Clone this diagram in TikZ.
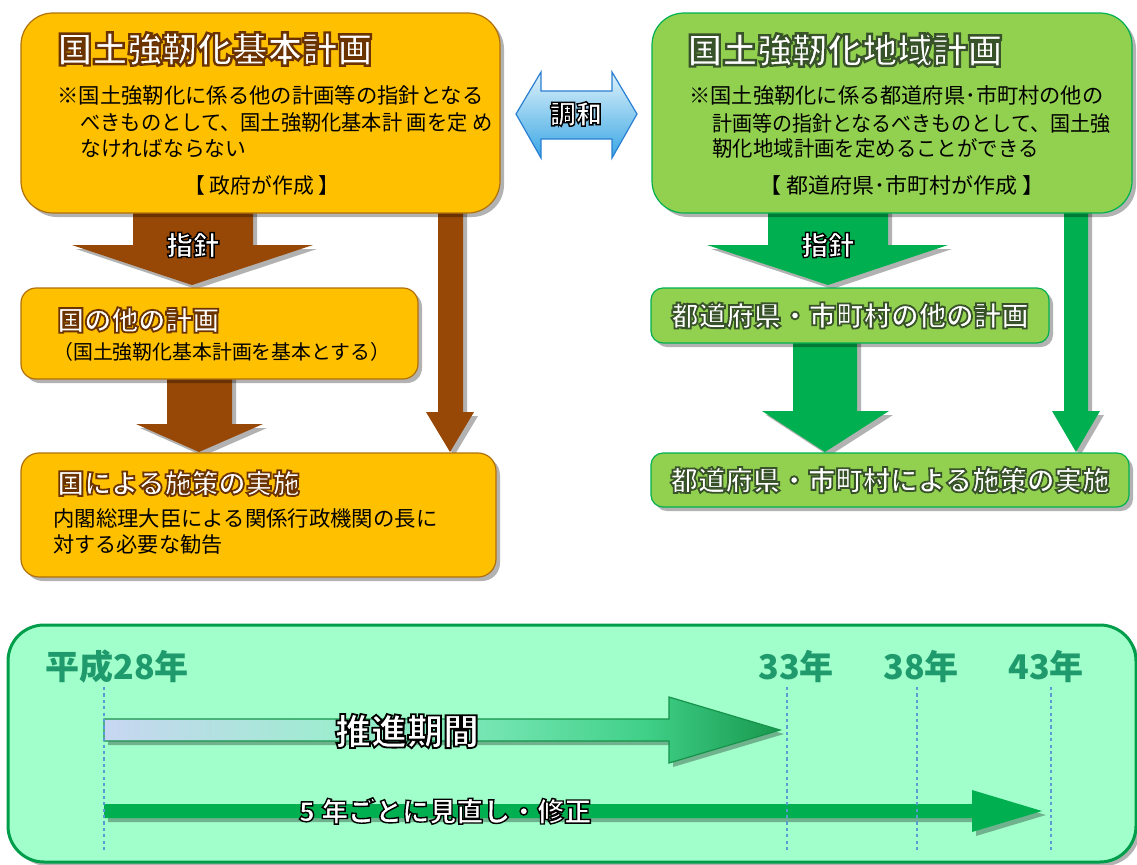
\documentclass[tikz,border=0pt]{standalone}
\usepackage{fontspec}
\setmainfont{Noto Sans CJK JP}
\usepackage{graphicx}
\usetikzlibrary{shadows}
\definecolor{ofill}{HTML}{FFC000}
\definecolor{oborder}{HTML}{B0700A}
\definecolor{brn}{HTML}{974806}
\definecolor{gfill}{HTML}{92D050}
\definecolor{gborder}{HTML}{00B050}
\definecolor{garr}{HTML}{00B050}
\definecolor{pfill}{HTML}{A0FFCA}
\definecolor{pborder}{HTML}{009E4A}
\definecolor{yr}{HTML}{1F9A6C}
\definecolor{dotc}{HTML}{5B9BD5}
\definecolor{hlight}{HTML}{E0F2FA}
\definecolor{hdark}{HTML}{38A6E4}
\definecolor{hline}{HTML}{2A7FD2}
\definecolor{pa}{HTML}{C8D6F2}
\definecolor{pb}{HTML}{9EECD0}
\definecolor{pc}{HTML}{72E4B0}
\definecolor{pd}{HTML}{40D088}
\definecolor{pe}{HTML}{18984E}
\definecolor{pline}{HTML}{16934A}
\pgfdeclarehorizontalshading{promsh}{100bp}{color(0bp)=(pa); color(25bp)=(pa); color(41.7bp)=(pb); color(54bp)=(pc); color(65bp)=(pd); color(75bp)=(pe); color(100bp)=(pe)}
\newcommand\olt[3]{\special{pdf:literal direct #1 RG #2 w 2 Tr}#3\special{pdf:literal direct 0 Tr 0.3985 w}}
\newcommand\fw[2]{\resizebox{#1pt}{\height}{#2}}
\begin{document}
\begin{tikzpicture}[x=0.5pt, y=-0.5pt,
  every node/.style={inner sep=0pt},
  shad/.style={drop shadow={shadow xshift=2pt, shadow yshift=-2pt, opacity=0.3, fill=black}},
  obox/.style={draw=oborder, fill=ofill, line width=0.6pt, rounded corners=#1, shad},
  gbox/.style={draw=gborder, fill=gfill, line width=0.6pt, rounded corners=#1, shad},
  body/.style={anchor=west, text=black, font=\fontsize{10.6}{13}\selectfont},
  ttl/.style={anchor=west, text=white, font=\fontsize{17.5}{20}\selectfont\bfseries},
  sttl/.style={anchor=west, text=white, font=\fontsize{13.5}{16}\selectfont\bfseries},
  yrs/.style={text=yr, font=\fontsize{17}{20}\selectfont\bfseries},
  dotline/.style={dotc, line width=1.1pt, dash pattern=on 1.6pt off 1.6pt},
]
\useasboundingbox (0,0) rectangle (1137,864);

% ---- block arrows (left, brown)
\fill[brn, shad] (133,205) -- (253,205) -- (253,245) -- (313,245) -- (192,285) -- (72,245) -- (133,245) -- cycle;
\fill[brn, shad] (167,370) -- (232,370) -- (232,424) -- (263,424) -- (199,452) -- (136,424) -- (167,424) -- cycle;
\fill[brn, shad] (438,205) -- (463,205) -- (463,412) -- (474,412) -- (450,452) -- (426,412) -- (438,412) -- cycle;
% ---- block arrows (right, green)
\fill[garr, shad] (768,205) -- (888,205) -- (888,245) -- (948,245) -- (828,285) -- (707,245) -- (768,245) -- cycle;
\fill[garr, shad] (793,335) -- (857,335) -- (857,411) -- (889,411) -- (825,452) -- (762,411) -- (793,411) -- cycle;
\fill[garr, shad] (1064,205) -- (1088,205) -- (1088,411) -- (1100,411) -- (1076,452) -- (1052,411) -- (1064,411) -- cycle;

% ---- boxes
\node[obox=16pt, minimum width=239.5pt, minimum height=100pt] (plan) at (260.5,113) {};
\node[obox=7.5pt, minimum width=198.5pt, minimum height=45.5pt] (other) at (219.5,333.5) {};
\node[obox=9pt, minimum width=237.5pt, minimum height=62pt] (impl) at (258.5,515) {};
\node[gbox=16pt, minimum width=240pt, minimum height=100pt] (rplan) at (892,113) {};
\node[gbox=6pt, minimum width=199pt, minimum height=27.5pt, text=white,
      font=\fontsize{13.75}{16}\selectfont\bfseries] (rother) at (850,315.5)
      {\olt{0.22 0.32 0.16}{0.9}{都道府県・市町村の他の計画}};
\node[gbox=6pt, minimum width=239pt, minimum height=27pt, text=white,
      font=\fontsize{13.75}{16}\selectfont\bfseries] (rimpl) at (890,480)
      {\olt{0.22 0.32 0.16}{0.9}{都道府県・市町村による施策の実施}};

% ---- texts in left boxes
\node[ttl] (t1) at (57,49) {\olt{0.42 0.2 0}{1.2}{国土強靭化基本計画}};
\node[body] (t1a) at (57,95) {\fw{213}{※国土強靭化に係る他の計画等の指針となる}};
\node[body] (t1b) at (80,123) {\fw{206}{べきものとして、国土強靭化基本計 画を定 め}};
\node[body] (t1c) at (80,148) {\fw{83}{なければならない}};
\node[body, anchor=center] (t1d) at (262,185) {\fw{77.5}{【 政府が作成 】}};

\node[sttl] (t2) at (57,320) {\olt{0.42 0.2 0}{0.9}{国の他の計画}};
\node[body, font=\fontsize{10}{12}\selectfont] (t2a) at (53,352) {\fw{168.5}{（国土強靭化基本計画を基本とする）}};

\node[sttl] (t3) at (57,483) {\olt{0.42 0.2 0}{0.9}{国による施策の実施}};
\node[body] (t3a) at (53,518) {\fw{192}{内閣総理大臣による関係行政機関の長に}};
\node[body] (t3b) at (53,545) {\fw{84.5}{対する必要な勧告}};

% ---- texts in right box
\node[ttl] (r1) at (687,50) {\olt{0.22 0.32 0.16}{1.2}{国土強靭化地域計画}};
\node[body] (r1a) at (689,95) {\fw{207}{※国土強靭化に係る都道府県･市町村の他の}};
\node[body] (r1b) at (712,123) {\fw{199}{計画等の指針となるべきものとして、国土強}};
\node[body] (r1c) at (712,148) {\fw{163}{靭化地域計画を定めることができる}};
\node[body, anchor=center] (r1d) at (902,185) {\fw{142.5}{【 都道府県･市町村が作成 】}};

% ---- arrow labels
\node[text=white, font=\fontsize{13.25}{15}\selectfont\bfseries] (g1) at (193,245) {\olt{0 0 0}{0.7}{指針}};
\node[text=white, font=\fontsize{13.25}{15}\selectfont\bfseries] (g2) at (828,245) {\olt{0 0 0}{0.7}{指針}};

% ---- harmony double arrow
\draw[hline, line width=0.6pt, top color=hlight, bottom color=hdark]
  (516,114) -- (541,72) -- (541,91) -- (612,91) -- (612,72) -- (637,114)
  -- (612,158) -- (612,139) -- (541,139) -- (541,158) -- cycle;
\node[text=white, font=\fontsize{13}{15}\selectfont\bfseries] (harm) at (576,114) {\olt{0 0 0}{0.7}{調和}};

% ---- bottom panel
\node[draw=pborder, fill=pfill, line width=1.5pt, rounded corners=18pt, shad,
      minimum width=564pt, minimum height=118.5pt] (panel) at (572,743.5) {};
\node[yrs, anchor=west] (y28) at (45,667) {平成28年};
\node[yrs] (y33) at (796,667) {33年};
\node[yrs] (y38) at (921,667) {38年};
\node[yrs] (y43) at (1046,667) {43年};

\draw[pline, line width=0.6pt, shading=promsh, shad]
  (104,719) -- (669,719) -- (669,697) -- (780,730) -- (669,763) -- (669,741) -- (104,741) -- cycle;
\fill[garr, shad]
  (104,804) -- (972,804) -- (972,790) -- (1042,811) -- (972,832) -- (972,818) -- (104,818) -- cycle;

\coordinate (d1t) at (104,687); \coordinate (d1b) at (104,852);
\coordinate (d2t) at (787,687); \coordinate (d2b) at (787,852);
\coordinate (d3t) at (917,687); \coordinate (d3b) at (917,852);
\coordinate (d4t) at (1051,687); \coordinate (d4b) at (1051,852);
\draw[dotline] (d1t) -- (d1b);
\draw[dotline] (d2t) -- (d2b);
\draw[dotline] (d3t) -- (d3b);
\draw[dotline] (d4t) -- (d4b);

\node[text=white, font=\fontsize{18}{20}\selectfont\bfseries] (prom) at (407,731) {\olt{0 0 0}{0.9}{推進期間}};
\node[text=white, font=\fontsize{13.5}{15}\selectfont\bfseries] (rev) at (445,811) {\olt{0 0 0}{0.7}{5 年ごとに見直し・修正}};
\end{tikzpicture}
\end{document}
